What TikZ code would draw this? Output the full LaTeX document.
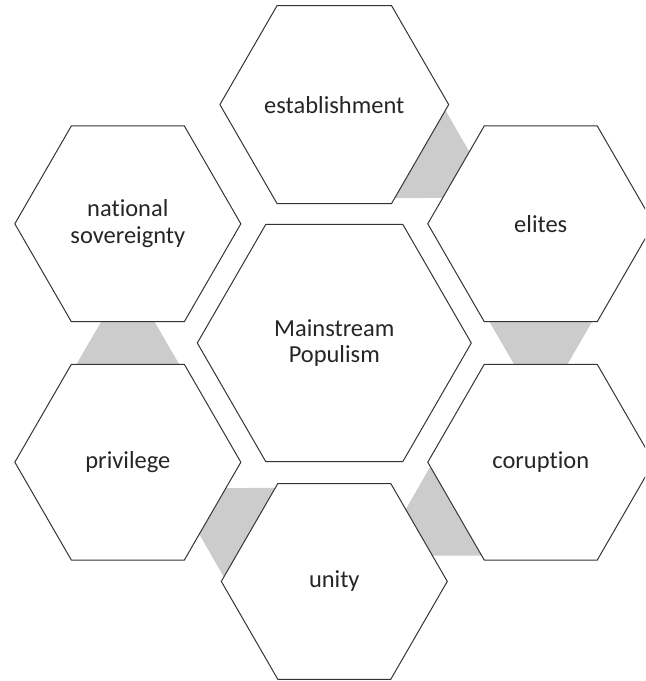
\documentclass[tikz,border=0pt]{standalone}
\usepackage{fontspec}
\setmainfont[Ligatures=CommonOff]{Carlito}
\usetikzlibrary{positioning, shapes.geometric, calc, backgrounds}

\begin{document}
\begin{tikzpicture}[
  hexbig/.style={regular polygon, regular polygon sides=6, minimum size=6.85cm,
                 inner sep=0pt, draw=black!80, fill=white, line width=0.7pt, align=center,
                 text=black!85, font=\fontsize{17.4}{19}\selectfont},
  hex/.style={hexbig, minimum size=5.65cm},
  link/.style={fill=gray!40},
]
  \useasboundingbox (-8.3575,-8.45) rectangle (7.7675,8.575);
  \clip (-8.3575,-8.45) rectangle (7.7675,8.575);

  \node[hexbig] (main) at (0,0) {Mainstream\\Populism};

  % ring of terms
  \node[hex] (est) at (90:5.96) {establishment};
  \node[hex] (eli) at (30:5.96) {elites};
  \node[hex] (cor) at (-30:5.96) {coruption};
  \node[hex] (uni) at (-90:5.96) {unity};
  \node[hex] (pri) at (-150:5.96) {privilege};
  \node[hex] (nat) at (150:5.96) {national\\sovereignty};

  % gray links behind the ring
  \begin{scope}[on background layer]
    \foreach \a/\b in {est/eli, eli/cor, cor/uni, uni/pri, pri/nat} {
      \fill[link] ($($(\a)!0.25!(\b)$)!1.84cm!90:(\b)$) -- ($($(\a)!0.71!(\b)$)!0.25cm!90:(\b)$)
        -- ($($(\a)!0.71!(\b)$)!0.25cm!-90:(\b)$) -- ($($(\a)!0.25!(\b)$)!1.84cm!-90:(\b)$) -- cycle;
    }
  \end{scope}
\end{tikzpicture}
\end{document}
